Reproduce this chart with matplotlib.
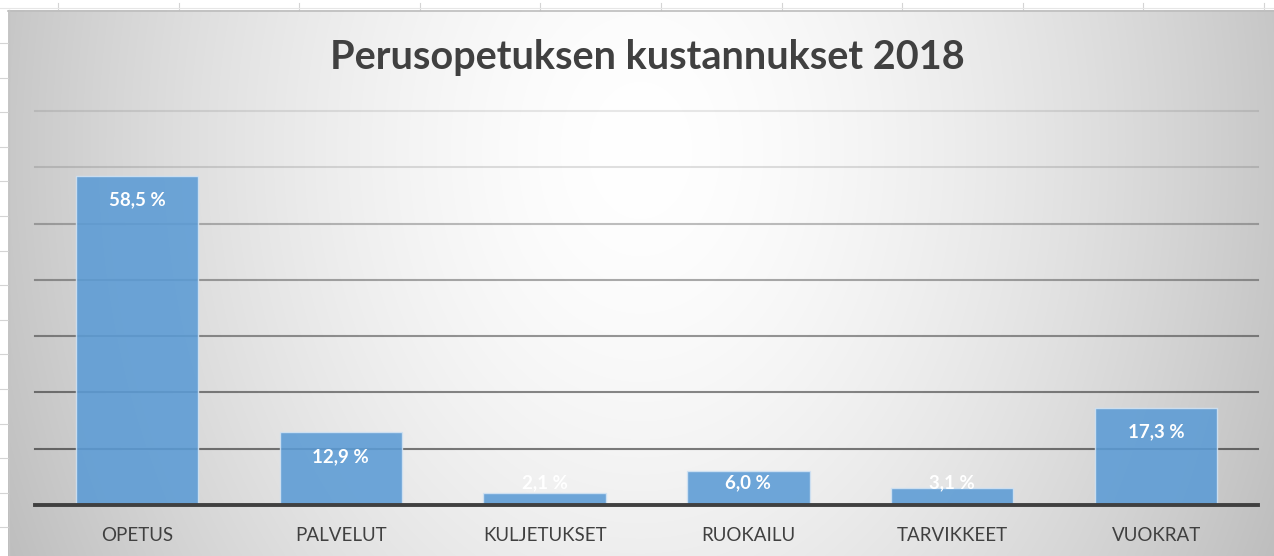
import numpy as np
import matplotlib.pyplot as plt

categories = ["OPETUS", "PALVELUT", "KULJETUKSET", "RUOKAILU", "TARVIKKEET", "VUOKRAT"]
values = [58.5, 12.9, 2.1, 6.0, 3.1, 17.3]
labels = ["58,5 %", "12,9 %", "2,1 %", "6,0 %", "3,1 %", "17,3 %"]
title = "Perusopetuksen kustannukset 2018"

W, H = 1274, 556
fig = plt.figure(figsize=(W / 100, H / 100), dpi=100)
fig.patch.set_facecolor("white")

# background: spreadsheet edge + chart area with radial gradient
bg = fig.add_axes([0, 0, 1, 1])
bg.set_xlim(0, W)
bg.set_ylim(H, 0)
bg.axis("off")

for x in np.arange(58, W, 120.6):
    bg.plot([x, x], [3, 10], color="#d4d4d4", lw=0.8)
for y in np.arange(43, H, 34.6):
    bg.plot([0, 8], [y, y], color="#d4d4d4", lw=0.8)
bg.plot([0, W], [8, 8], color="#e6e6e6", lw=0.8)

gx, gy = np.meshgrid(np.arange(8, W), np.arange(10, H))
d = np.sqrt(((gx - 640) / 640.0) ** 2 + ((gy - 150) / 850.0) ** 2)
v = 1 - 0.22 * np.clip(d, 0, 1.2) ** 1.6
rgb = np.dstack([v, v, v])
bg.imshow(rgb, extent=[8, W, H, 10], aspect="auto", interpolation="bilinear")
bg.plot([8, W], [10.5, 10.5], color="#bdbdbd", lw=1.2)
bg.plot([8.5, 8.5], [10, H], color="#c4c4c4", lw=1.0)

# plot area
left, right, top, bottom = 35, 1258, 111, 505
ax = fig.add_axes([left / W, 1 - bottom / H, (right - left) / W, (bottom - top) / H])
ax.set_facecolor("none")
ax.set_xlim(-0.5, len(categories) - 0.5)
ax.set_ylim(0, 70)

grid_alpha = {10: 0.50, 20: 0.46, 30: 0.40, 40: 0.33, 50: 0.25, 60: 0.12, 70: 0.09}
for g, a in grid_alpha.items():
    ax.axhline(g, color="black", alpha=a, lw=1.5, zorder=1, clip_on=False)

x = np.arange(len(categories))
ax.bar(x, values, width=0.6, color="#5b9bd5", alpha=0.88,
       edgecolor="#d2e3f3", linewidth=1.0, zorder=2)
ax.axhline(0, color="#404040", lw=2.8, zorder=3, clip_on=False)

for xi, val, lab in zip(x, values, labels):
    ax.text(xi, max(val - 4.35, 3.9), lab, ha="center", va="center",
            color="white", fontsize=13.5, fontweight="bold", family="Lato", zorder=4)

ax.set_xticks(x)
ax.set_xticklabels(categories, fontsize=13.5, color="#404040", family="Lato")
ax.tick_params(axis="x", length=0, pad=16)
ax.set_yticks([])
for s in ax.spines.values():
    s.set_visible(False)

fig.text(647 / W, 1 - 57 / H, title, ha="center", va="center",
         fontsize=28.5, fontweight="bold", color="#404040", family="Lato")

fig.savefig("out.png", dpi=100)
